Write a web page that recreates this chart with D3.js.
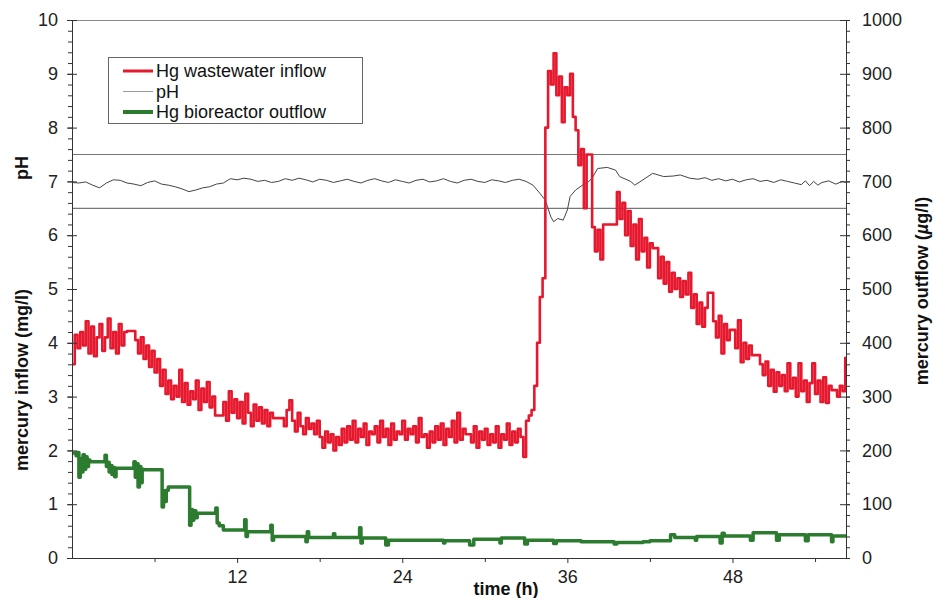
<!DOCTYPE html>
<html>
<head>
<meta charset="utf-8">
<script src="https://cdn.jsdelivr.net/npm/d3@7"></script>
<style>
    body { margin: 0; background: #fff; }
    svg { display: block; font-family: Arial, 'Liberation Sans', sans-serif; }
    .axis path, .axis line { stroke: #333; }
    .axis text { font-size: 18px; fill: #222; }
    .axis-title { font-size: 18px; font-weight: bold; fill: #111; }
    .legend text { font-size: 18px; fill: #111; }
</style>
</head>
<body>
<div id="chart"></div>
<script>
`use strict`;

// Hg wastewater inflow (mg/l), one reading every 0.2 h starting at 0 h
const inflowStep = 0.2;
const inflow = [
    3.6, 4.15, 3.9, 4.2, 3.95, 4.4, 3.8, 4.3, 3.75, 4.1,
    4.35, 3.85, 4.1, 4.45, 3.9, 4.2, 3.8, 4.35, 3.95, 4.2,
    4.22, 4.22, 4.22, 4.05, 3.8, 4.1, 3.7, 3.95, 3.55, 3.85,
    3.45, 3.7, 3.2, 3.5, 3.05, 3.3, 2.95, 3.2, 3.0, 3.5,
    2.9, 3.25, 2.85, 3.1, 2.95, 3.3, 2.75, 3.15, 2.9, 3.27,
    2.8, 3.0, 2.65, 2.65, 2.65, 2.9, 2.55, 3.1, 2.7, 2.95,
    2.6, 2.9, 2.5, 3.05, 2.7, 2.45, 2.85, 2.55, 2.8, 2.5,
    2.75, 2.45, 2.7, 2.6, 2.6, 2.6, 2.6, 2.45, 2.75, 2.93,
    2.55, 2.35, 2.7, 2.45, 2.3, 2.6, 2.4, 2.5, 2.3, 2.55,
    2.25, 2.05, 2.35, 2.15, 2.3, 2.0, 2.25, 2.1, 2.4, 2.15,
    2.45, 2.2, 2.55, 2.15, 2.4, 2.25, 2.5, 2.1, 2.35, 2.3,
    2.45, 2.15, 2.55, 2.25, 2.4, 2.1, 2.5, 2.2, 2.35, 2.3,
    2.55, 2.2, 2.4, 2.3, 2.45, 2.15, 2.6, 2.25, 2.3, 2.05,
    2.35, 2.15, 2.45, 2.2, 2.5, 2.1, 2.4, 2.25, 2.55, 2.15,
    2.7, 2.2, 2.4, 2.3, 2.3, 2.15, 2.45, 2.05, 2.35, 2.2,
    2.4, 2.1, 2.3, 2.15, 2.45, 2.05, 2.3, 2.2, 2.5, 2.1,
    2.35, 2.15, 2.4, 2.25, 1.88, 2.55, 2.65, 2.75, 3.2, 4.0,
    4.85, 5.2, 8.0, 9.05, 8.8, 9.38, 8.6, 8.95, 8.1, 8.75,
    8.6, 9.0, 8.2, 7.95, 7.3, 7.6, 6.5, 7.5, 7.5, 6.15,
    5.7, 6.1, 5.55, 6.2, 6.2, 6.2, 6.2, 6.2, 6.8, 6.3,
    6.6, 6.0, 6.45, 5.8, 6.2, 5.55, 6.3, 5.7, 5.95, 5.4,
    5.85, 5.76, 5.76, 5.2, 5.6, 5.1, 5.5, 4.95, 5.3, 5.0,
    5.2, 4.85, 5.15, 4.9, 5.3, 4.65, 4.9, 4.35, 4.75, 4.3,
    4.65, 4.93, 4.93, 4.4, 4.1, 4.5, 3.8, 4.35, 4.05, 4.24,
    4.24, 3.9, 4.42, 3.64, 4.0, 3.7, 3.95, 3.77, 3.77, 3.77,
    3.6, 3.4, 3.65, 3.2, 3.5, 3.09, 3.45, 3.2, 3.4, 3.1,
    3.62, 3.15, 3.35, 3.0, 3.62, 3.1, 3.3, 2.9, 3.25, 3.62,
    3.05, 3.3, 2.9, 3.36, 2.88, 3.2, 3.12, 3.12, 3.0, 3.2,
    3.1, 3.74
];

// pH readings [time (h), pH]
const ph = [
    [0, 6.98], [0.5, 6.97], [1, 6.99], [1.5, 6.93], [2, 6.88], [2.5, 6.97], [3, 7.03], [3.5, 7.02],
    [4, 6.97], [4.5, 6.95], [5, 6.92], [5.5, 6.98], [6, 7.01], [6.5, 6.95], [7, 6.93], [7.5, 6.9],
    [8, 6.86], [8.5, 6.81], [9, 6.84], [9.5, 6.88], [10, 6.9], [10.5, 6.95], [11, 6.97], [11.5, 7.05],
    [12, 7.03], [12.5, 7.06], [13, 7.04], [13.5, 7.0], [14, 7.02], [14.5, 6.98], [15, 7.0], [15.5, 7.05],
    [16, 7.02], [16.5, 7.06], [17, 7.03], [17.5, 6.99], [18, 7.04], [18.5, 7.02], [19, 6.98], [19.5, 7.01],
    [20, 7.04], [20.5, 7.0], [21, 6.97], [21.5, 7.02], [22, 7.05], [22.5, 7.01], [23, 6.98], [23.5, 7.03],
    [24, 7.0], [24.5, 6.97], [25, 7.02], [25.5, 7.04], [26, 6.99], [26.5, 7.01], [27, 7.05], [27.5, 7.0],
    [28, 6.97], [28.5, 7.02], [29, 7.04], [29.5, 7.0], [30, 6.98], [30.5, 7.03], [31, 7.01], [31.5, 6.98],
    [32, 7.02], [32.5, 7.04], [33, 7.0], [33.5, 6.93], [34, 6.78], [34.4, 6.65], [34.8, 6.34], [35, 6.25],
    [35.3, 6.31], [35.7, 6.28], [36, 6.47], [36.2, 6.72], [36.6, 6.84], [37.1, 6.93], [37.4, 6.96], [37.8, 7.06],
    [38.2, 7.24], [38.9, 7.26], [39.5, 7.21], [39.8, 7.09], [40.6, 7.0], [40.9, 6.93], [41.5, 7.03], [42.2, 7.15],
    [43, 7.09], [43.7, 7.1], [44.2, 7.12], [44.9, 7.06], [45.5, 7.04], [46, 7.07], [46.5, 7.02], [47, 7.05],
    [47.5, 7.01], [48, 7.04], [48.5, 6.99], [49, 7.03], [49.5, 7.05], [50, 7.0], [50.5, 7.02], [51, 6.98],
    [51.5, 7.03], [52, 7.0], [52.5, 6.97], [53, 6.94], [53.3, 7.01], [53.6, 6.92], [53.9, 7.0], [54.2, 6.93],
    [54.5, 6.98], [55, 7.01], [55.5, 6.95], [56, 7.0], [56.25, 6.98]
];

// pH band limits
const phLimits = [6.5, 7.5];

// Hg bioreactor outflow [time (h), µg/l], stepwise readings
const outflow = [
    [0, 195], [0.3, 190], [0.4, 196], [0.5, 150], [0.6, 185], [0.7, 160], [0.8, 192], [0.9, 165],
    [1.0, 188], [1.1, 170], [1.2, 182], [1.3, 179], [2.4, 191], [2.5, 170], [2.6, 178], [2.7, 160],
    [2.8, 172], [2.9, 155], [3.0, 168], [3.1, 151], [3.2, 167], [4.5, 179], [4.6, 150], [4.7, 175],
    [4.8, 132], [4.9, 170], [5.0, 140], [5.1, 165], [5.2, 164], [6.55, 95], [6.65, 125], [6.75, 105],
    [6.85, 126], [7.0, 132], [8.55, 61], [8.65, 90], [8.75, 70], [8.85, 88], [9.0, 75], [9.1, 83],
    [10.45, 93], [10.55, 65], [10.7, 60], [11.0, 52], [12.55, 71], [12.65, 40], [12.75, 49], [14.45, 61],
    [14.55, 33], [14.65, 40], [16.8, 40], [17.0, 30], [17.1, 49], [17.2, 38], [19.0, 45], [19.1, 38],
    [20.9, 56], [21.0, 28], [21.1, 37], [22.8, 24], [23.0, 33], [27.0, 28], [27.1, 32], [28.9, 24],
    [29.2, 35], [31.1, 28], [31.2, 37], [32.9, 26], [33.1, 33], [35.0, 27], [35.2, 32], [37.0, 30],
    [39.4, 26], [39.6, 29], [41.5, 30], [42.0, 32], [43.5, 43], [43.8, 38], [45.3, 33], [45.4, 40],
    [47.1, 28], [47.25, 46], [47.4, 41], [49.3, 33], [49.5, 47], [51.2, 33], [51.4, 43], [53.3, 32],
    [53.5, 43], [55.2, 30], [55.3, 41], [56.25, 41]
];

const xMajorTicks = [12, 24, 36, 48];
const xMinorTicks = [6, 18, 30, 42, 54];
const leftTicks = [0, 1, 2, 3, 4, 5, 6, 7, 8, 9, 10];
const rightTicks = [0, 100, 200, 300, 400, 500, 600, 700, 800, 900, 1000];

const legendItems = [
    {label: 'Hg wastewater inflow', color: '#e5182e', width: 3},
    {label: 'pH', color: '#999', width: 1},
    {label: 'Hg bioreactor outflow', color: '#2c7c2f', width: 4}
];

let w = 933, h = 598;
let plotLeft = 72, plotRight = 846, plotTop = 20, plotBottom = 558;

let svg = d3.select('#chart').append('svg')
    .attr('width', w).attr('height', h);

let x = d3.scaleLinear().domain([0, 56.25]).range([plotLeft, plotRight]);
let yL = d3.scaleLinear().domain([0, 10]).range([plotBottom, plotTop]);
let yR = d3.scaleLinear().domain([0, 1000]).range([plotBottom, plotTop]);

//top border
svg.append('line')
    .attr('x1', plotLeft).attr('x2', plotRight).attr('y1', plotTop + 0.5).attr('y2', plotTop + 0.5)
    .attr('stroke', '#888').attr('stroke-width', 1);

//pH limits
svg.selectAll('.ph-limit').data(phLimits).enter().append('line')
    .classed('ph-limit', true)
    .attr('x1', plotLeft).attr('x2', plotRight)
    .attr('y1', (d) => yL(d)).attr('y2', (d) => yL(d))
    .attr('stroke', '#777').attr('stroke-width', 1.2);

//pH line
let phLine = d3.line().x((d) => x(d[0])).y((d) => yL(d[1]));
svg.append('path').datum(ph)
    .attr('d', phLine)
    .attr('fill', 'none').attr('stroke', '#444').attr('stroke-width', 1);

//inflow, drawn as a step trace like the logger output
let inflowLine = d3.line()
    .x((d, i) => x(i * inflowStep)).y((d) => yL(d))
    .curve(d3.curveStepAfter);
svg.append('path').datum(inflow)
    .attr('d', inflowLine)
    .attr('fill', 'none').attr('stroke', legendItems[0].color)
    .attr('stroke-width', 2.6).attr('stroke-linejoin', 'round');

//outflow
let outflowLine = d3.line()
    .x((d) => x(d[0])).y((d) => yR(d[1]))
    .curve(d3.curveStepAfter);
svg.append('path').datum(outflow)
    .attr('d', outflowLine)
    .attr('fill', 'none').attr('stroke', legendItems[2].color)
    .attr('stroke-width', 3.5).attr('stroke-linejoin', 'round');

//axes
function addAxis(axis, tx, ty, keepDomain){
    let g = svg.append('g').classed('axis', true)
        .attr('transform', `translate(${tx},${ty})`)
        .call(axis);
    if(!keepDomain) g.select('.domain').remove();
    return g;
}

let minorLeft = d3.range(0, 10.001, 0.2);
let minorRight = d3.range(0, 1000.1, 20);

addAxis(d3.axisLeft(yL).tickValues(leftTicks).tickSize(5).tickSizeOuter(0).tickPadding(9), plotLeft, 0, true);
addAxis(d3.axisRight(yL).tickValues(leftTicks).tickSize(5).tickFormat(''), plotLeft, 0, false);
addAxis(d3.axisLeft(yL).tickValues(minorLeft).tickSize(4).tickFormat(''), plotLeft, 0, false);

addAxis(d3.axisRight(yR).tickValues(rightTicks).tickSize(4).tickSizeOuter(0).tickPadding(12)
    .tickFormat(d3.format('d')), plotRight, 0, true);
addAxis(d3.axisLeft(yR).tickValues(rightTicks).tickSize(6).tickFormat(''), plotRight, 0, false);
addAxis(d3.axisRight(yR).tickValues(minorRight).tickSize(4).tickFormat(''), plotRight, 0, false);

addAxis(d3.axisBottom(x).tickValues(xMajorTicks).tickSize(5).tickSizeOuter(0).tickPadding(7), 0, plotBottom, true);
addAxis(d3.axisBottom(x).tickValues(xMinorTicks).tickSize(4).tickFormat(''), 0, plotBottom, false);

//axis titles
svg.append('text').classed('axis-title', true)
    .attr('text-anchor', 'middle')
    .attr('transform', `translate(28,168) rotate(-90)`)
    .text('pH');
svg.append('text').classed('axis-title', true)
    .attr('text-anchor', 'middle')
    .attr('transform', `translate(28,380) rotate(-90)`)
    .text('mercury inflow (mg/l)');
let rt = svg.append('text').classed('axis-title', true)
    .attr('text-anchor', 'middle')
    .attr('transform', `translate(928,291) rotate(-90)`);
rt.append('tspan').text('mercury outflow (');
rt.append('tspan').attr('font-style', 'italic').text('µ');
rt.append('tspan').text('g/l)');
svg.append('text').classed('axis-title', true)
    .attr('text-anchor', 'middle')
    .attr('x', 506).attr('y', 595)
    .text('time (h)');

//legend
let legend = svg.append('g').classed('legend', true);
legend.append('rect')
    .attr('x', 108.5).attr('y', 57.5).attr('width', 254).attr('height', 66)
    .attr('fill', '#fff').attr('stroke', '#666').attr('stroke-width', 1);
legendItems.forEach((d, i) => {
    let base = 77 + i * 20.5;
    legend.append('line')
        .attr('x1', 123).attr('x2', 153).attr('y1', base - 6).attr('y2', base - 6)
        .attr('stroke', d.color).attr('stroke-width', d.width);
    legend.append('text')
        .attr('x', 156).attr('y', base)
        .text(d.label);
});
</script>
</body>
</html>
